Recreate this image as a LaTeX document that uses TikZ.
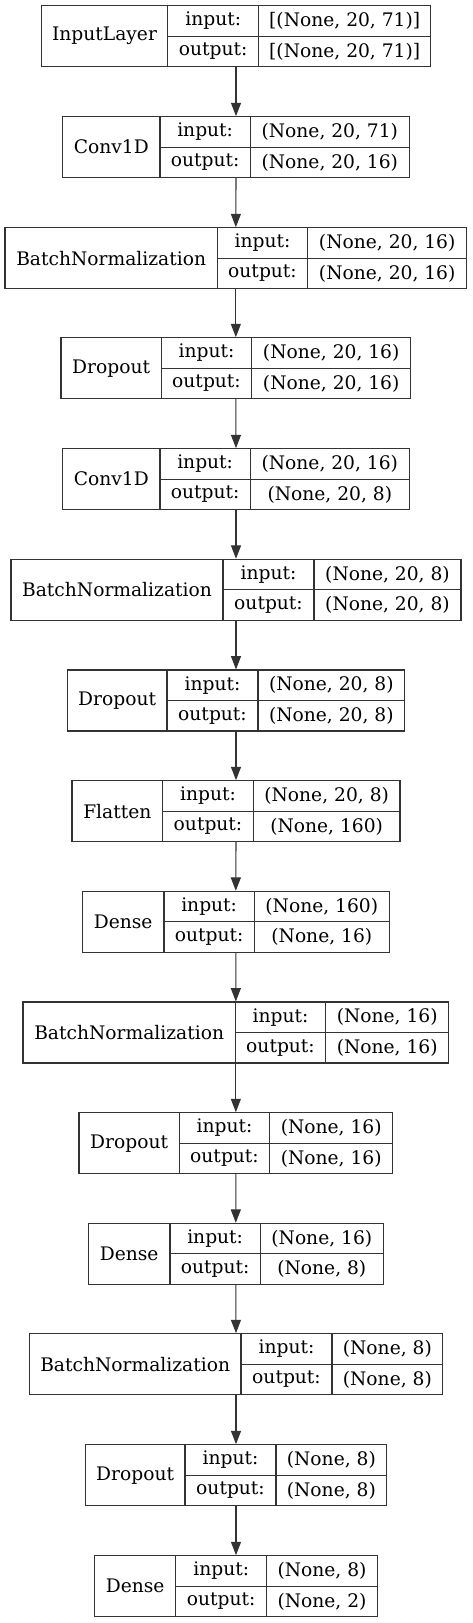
\documentclass[tikz,border=0pt]{standalone}
\usepackage{fontspec}
\setmainfont{DejaVu Serif}
\usetikzlibrary{arrows.meta}

\tikzset{
  rule/.style={draw=black!80, line width=0.8pt},
  layer/.style={rule, inner sep=0pt, minimum height=45.75pt},
  lbl/.style={inner sep=0pt, font=\fontsize{14}{16}\selectfont},
  flow/.style={rule, -{Triangle[length=10pt, width=7.5pt]}}
}

% #1 name, #2 top, #3 left, #4 first split, #5 second split, #6 right,
% #7 layer, #8 input shape, #9 output shape
\newcommand{\kbox}[9]{%
  \node [layer, minimum width={(#6-#3)*0.75pt}] (#1) at ({(#3+#6)/2},{#2+30.5}) {};
  \draw [rule] (#4,#2) -- (#4,{#2+61}) (#5,#2) -- (#5,{#2+61})
               (#4,{#2+30.5}) -- (#6,{#2+30.5});
  \node [lbl] (#1n) at ({(#3+#4)/2},{#2+30.5}) {#7};
  \node [lbl] (#1i) at ({(#4+#5)/2},{#2+15.25}) {input:};
  \node [lbl] (#1o) at ({(#4+#5)/2},{#2+45.75}) {output:};
  \node [lbl] (#1a) at ({(#5+#6)/2},{#2+15.25}) {#8};
  \node [lbl] (#1b) at ({(#5+#6)/2},{#2+45.75}) {#9};
}

\begin{document}
\begin{tikzpicture}[x=0.75pt, y=-0.75pt]
    \useasboundingbox (0,0) rectangle (472,1623);

    \kbox{in0}{5.7}{41.3}{167.7}{258.7}{430.7}{InputLayer}{[(None, 20, 71)]}{[(None, 20, 71)]}
    \kbox{c1}{116.7}{62.7}{160}{250.3}{409.3}{Conv1D}{(None, 20, 71)}{(None, 20, 16)}
    \kbox{bn1}{227.7}{5}{217.3}{307.7}{466.7}{BatchNormalization}{(None, 20, 16)}{(None, 20, 16)}
    \kbox{dr1}{337.7}{61}{161.3}{251.7}{410.7}{Dropout}{(None, 20, 16)}{(None, 20, 16)}
    \kbox{c2}{448.7}{62.7}{160}{250.3}{409.3}{Conv1D}{(None, 20, 16)}{(None, 20, 8)}
    \kbox{bn2}{559.3}{11}{223}{314}{461}{BatchNormalization}{(None, 20, 8)}{(None, 20, 8)}
    \kbox{dr2}{670}{67.3}{167}{258}{404.7}{Dropout}{(None, 20, 8)}{(None, 20, 8)}
    \kbox{fl}{780.7}{72}{162.7}{253.3}{400}{Flatten}{(None, 20, 8)}{(None, 160)}
    \kbox{d1}{891.3}{82.3}{164}{254.3}{389.3}{Dense}{(None, 160)}{(None, 16)}
    \kbox{bn3}{1002}{23}{235.3}{325.7}{448.7}{BatchNormalization}{(None, 16)}{(None, 16)}
    \kbox{dr3}{1112.7}{79}{179.3}{269.7}{392.7}{Dropout}{(None, 16)}{(None, 16)}
    \kbox{d2}{1223.3}{88.3}{170}{260.3}{383.3}{Dense}{(None, 16)}{(None, 8)}
    \kbox{bn4}{1333.7}{29.3}{241}{332}{442.7}{BatchNormalization}{(None, 8)}{(None, 8)}
    \kbox{dr4}{1444.7}{85.3}{185}{276}{386.7}{Dropout}{(None, 8)}{(None, 8)}
    \kbox{d3}{1555.7}{94.7}{175.7}{266.7}{377.3}{Dense}{(None, 8)}{(None, 2)}

    % data flow
    \foreach \a/\b in {in0/c1, c1/bn1, bn1/dr1, dr1/c2, c2/bn2, bn2/dr2, dr2/fl,
                       fl/d1, d1/bn3, bn3/dr3, dr3/d2, d2/bn4, bn4/dr4, dr4/d3}
        \draw [flow] (\a.south) -- (\b.north);
\end{tikzpicture}
\end{document}
